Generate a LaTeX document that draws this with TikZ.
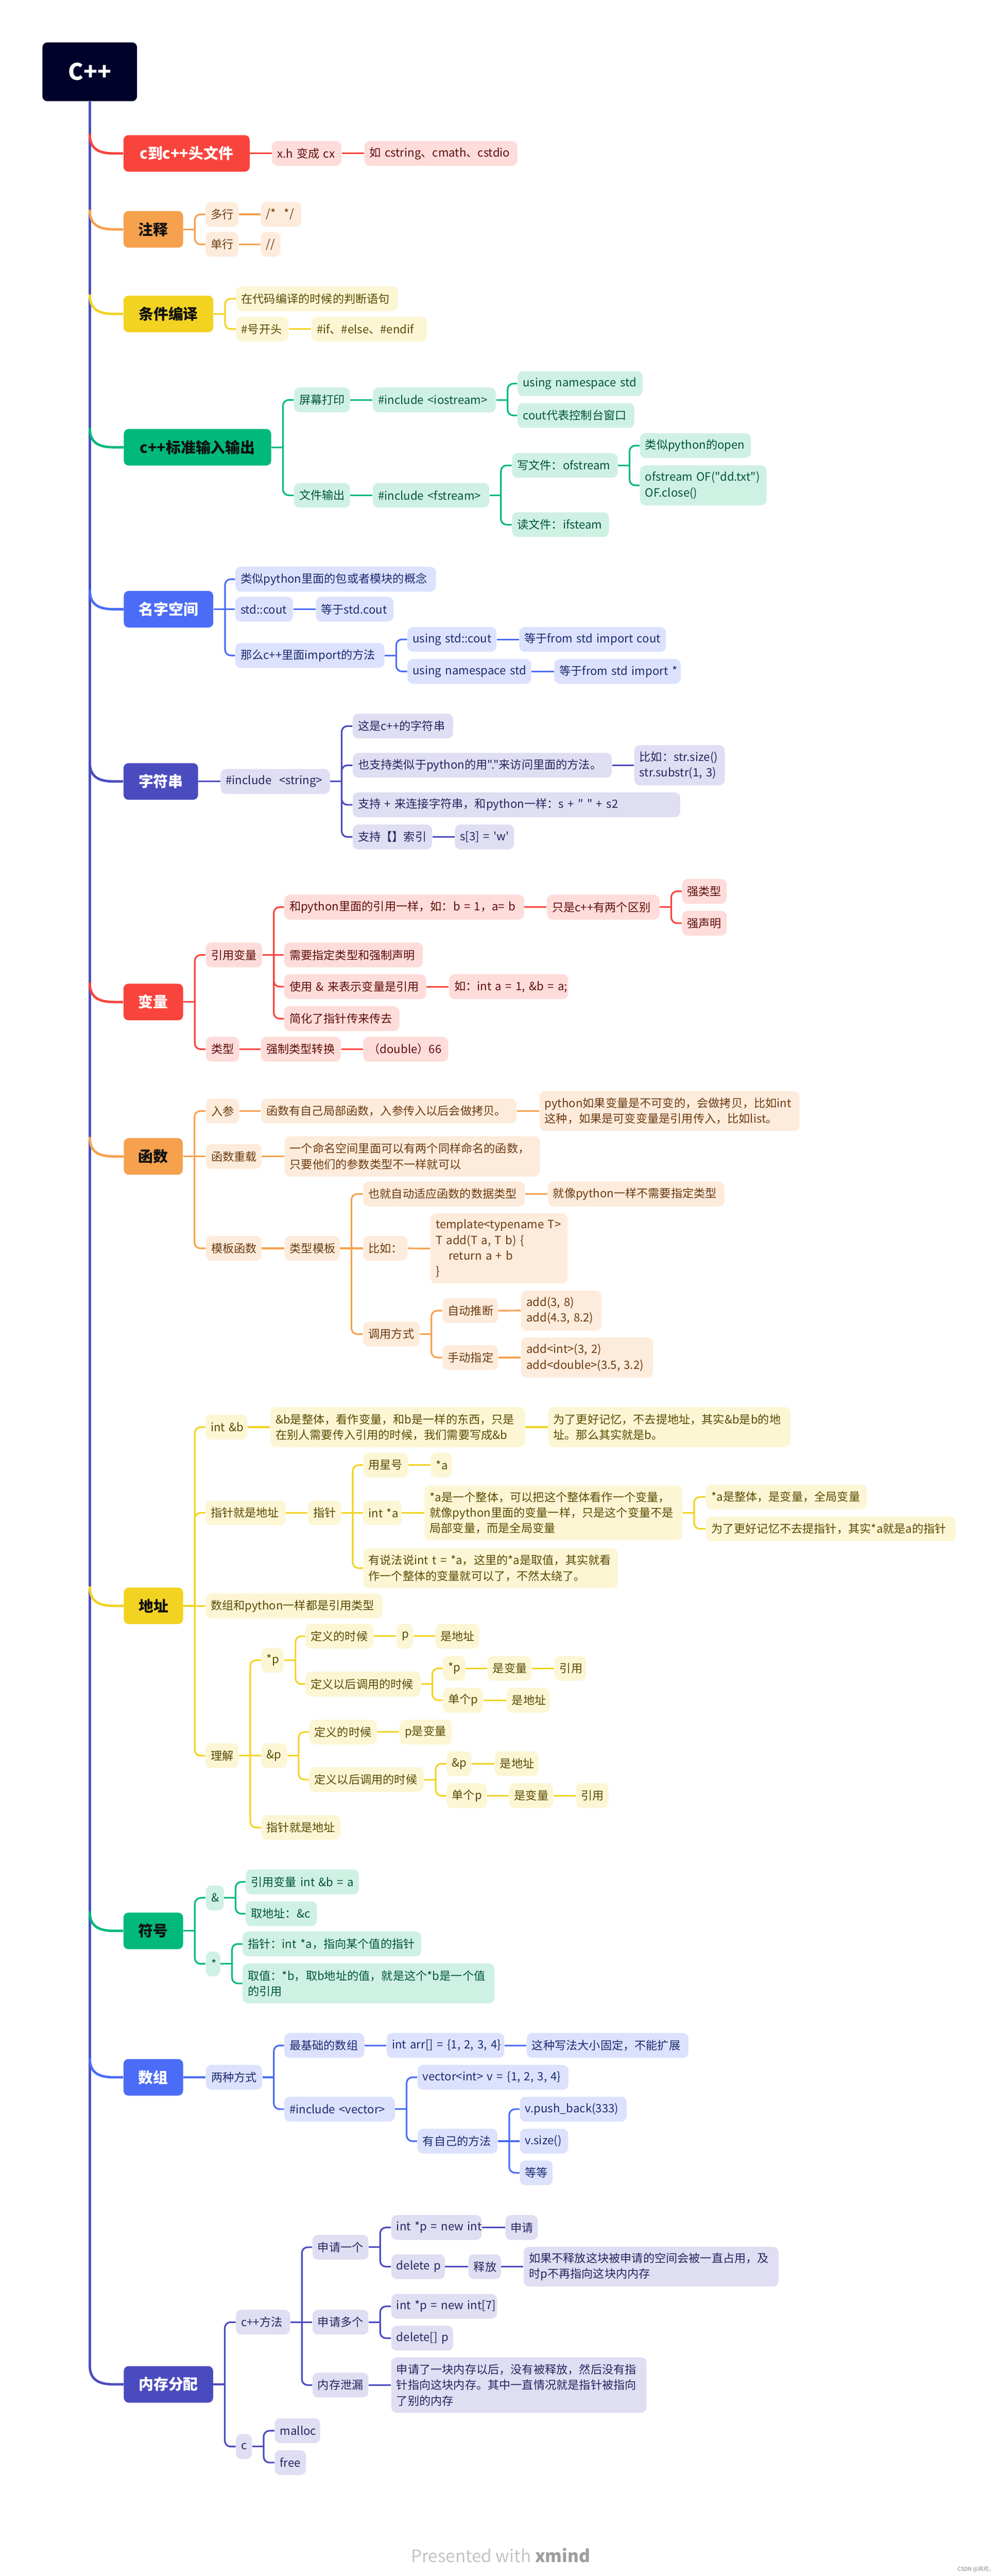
\documentclass[tikz,border=0pt]{standalone}
\usepackage{fontspec}
\setmainfont{Noto Sans CJK SC}[Ligatures=TeXOff]
\definecolor{rMain}{HTML}{F9443D}\definecolor{rLt}{HTML}{FEDCDA}\definecolor{rTx}{HTML}{5E0D07}
\definecolor{oMain}{HTML}{F6A14D}\definecolor{oLt}{HTML}{FDEBDC}\definecolor{oTx}{HTML}{6B3A0E}
\definecolor{yMain}{HTML}{F2D322}\definecolor{yLt}{HTML}{FCF6D5}\definecolor{yTx}{HTML}{5A4A00}
\definecolor{gMain}{HTML}{00B97B}\definecolor{gLt}{HTML}{CFF1E4}\definecolor{gTx}{HTML}{00533B}
\definecolor{bMain}{HTML}{4A6CF7}\definecolor{bLt}{HTML}{DCE2FD}\definecolor{bTx}{HTML}{1B2A70}
\definecolor{iMain}{HTML}{4B4BC0}\definecolor{iLt}{HTML}{DFDEF2}\definecolor{iTx}{HTML}{25245F}
\definecolor{spineC}{HTML}{4C52C2}
\definecolor{rootC}{HTML}{000229}
\definecolor{darkTx}{HTML}{111111}
\definecolor{pwA}{HTML}{C4C4C4}\definecolor{pwB}{HTML}{9E9E9E}
\tikzset{
  box/.style={rounded corners=3.4pt, inner xsep=3.2pt, inner ysep=0pt, minimum height=15.2pt,
    align=left, anchor=west, font=\fontsize{7}{9.6}\selectfont},
  mainbox/.style={rounded corners=3pt, inner xsep=0pt, inner ysep=0pt, minimum height=22.4pt,
    anchor=west, align=center, font=\fontsize{9.1}{11}\selectfont\bfseries},
  cR/.style={box, fill=rLt, text=rTx}, cO/.style={box, fill=oLt, text=oTx},
  cY/.style={box, fill=yLt, text=yTx}, cG/.style={box, fill=gLt, text=gTx},
  cB/.style={box, fill=bLt, text=bTx}, cI/.style={box, fill=iLt, text=iTx},
  mR/.style={mainbox, fill=rMain, text=white}, mO/.style={mainbox, fill=oMain, text=darkTx},
  mY/.style={mainbox, fill=yMain, text=darkTx}, mG/.style={mainbox, fill=gMain, text=darkTx},
  mB/.style={mainbox, fill=bMain, text=white}, mI/.style={mainbox, fill=iMain, text=white},
  lR/.style={draw=rMain, line width=1pt}, lO/.style={draw=oMain, line width=1pt},
  lY/.style={draw=yMain, line width=1pt}, lG/.style={draw=gMain, line width=1pt},
  lB/.style={draw=bMain, line width=1pt}, lI/.style={draw=iMain, line width=1pt},
}
% single-line child node: [style]{name}{x1}{x2}{yc}{text}
\newcommand\NodeS[6][]{\pgfmathsetmacro\nodeW{#4-#3}\pgfmathsetmacro\textW{#4-#3-6.4}%
  \node[#1,minimum width=\nodeW pt,text width=\textW pt] (#2) at (#3,#5) {\mbox{#6}};}
% multi-line child node: [style]{name}{x1}{x2}{yc}{h}{text}
\newcommand\NodeT[7][]{\pgfmathsetmacro\nodeW{#4-#3}\pgfmathsetmacro\textW{#4-#3-6.4}%
  \node[#1,minimum width=\nodeW pt,text width=\textW pt,minimum height=#6pt] (#2) at (#3,#5) {#7};}
% main node: [style]{name}{x1}{x2}{yc}{text}
\newcommand\NodeM[6][]{\pgfmathsetmacro\nodeW{#4-#3}%
  \node[#1,minimum width=\nodeW pt] (#2) at (#3,#5) {#6};}
% straight link
\newcommand\LinkS[3]{\draw[#1] (#2.east) -- (#3.west);}
% branched link
\newcommand\LinkB[3]{\draw[#1] (#2.east) -- ++(7pt,0) coordinate (brj);
  \draw[#1, rounded corners=3.5pt] (brj) |- (#3.west);}
% main branch from spine: {style}{node}{yc}
\newcommand\LinkM[3]{\draw[#1, line width=1.5pt] (55,#3-12) .. controls (55,#3-3) and (60,#3) .. (70,#3) -- (#2.west);}
\begin{document}
\begin{tikzpicture}[x=1pt,y=-1pt]
\useasboundingbox (0,0) rectangle (612,1578);
\fill[white] (0,0) rectangle (612,1578);

\node[fill=rootC, rounded corners=3pt, minimum width=58pt, minimum height=36pt, inner sep=0pt,
  text=white, font=\fontsize{14}{16}\selectfont\bfseries] (root) at (55,44) {C++};
\draw[draw=spineC, line width=1.6pt] (root.south) -- (55,1448.6);

% ---------- 1 ----------
\NodeM[mR]{n1}{75.5}{152.8}{94}{c到c++头文件}
\NodeS[cR]{a1}{166.5}{209}{94}{x.h 变成 cx}
\NodeS[cR]{a2}{223.1}{316.9}{94}{如 cstring、cmath、cstdio}
\LinkM{lR}{n1}{94}
\LinkS{lR}{n1}{a1}\LinkS{lR}{a1}{a2}

% ---------- 2 ----------
\NodeM[mO]{n2}{75.5}{112}{140.5}{注释}
\NodeS[cO]{b1}{125.8}{146}{131.3}{多行}
\NodeS[cO]{b2}{125.8}{146}{149.7}{单行}
\NodeS[cO]{b3}{159.7}{184.5}{131.3}{/*\hspace{5pt}*/}
\NodeS[cO]{b4}{159.7}{171.7}{149.7}{//}
\LinkM{lO}{n2}{140.5}
\LinkB{lO}{n2}{b1}\LinkB{lO}{n2}{b2}\LinkS{lO}{b1}{b3}\LinkS{lO}{b2}{b4}

% ---------- 3 ----------
\NodeM[mY]{n3}{75.5}{130.5}{192.3}{条件编译}
\NodeS[cY]{c1}{144.5}{243.8}{183}{在代码编译的时候的判断语句}
\NodeS[cY]{c2}{144.5}{176.6}{201.6}{\#号开头}
\NodeS[cY]{c3}{190.7}{261.5}{201.6}{\#if、\#else、\#endif}
\LinkM{lY}{n3}{192.3}
\LinkB{lY}{n3}{c1}\LinkB{lY}{n3}{c2}\LinkS{lY}{c2}{c3}

% ---------- 4 ----------
\NodeM[mG]{n4}{75.7}{166}{274}{c++标准输入输出}
\NodeS[cG]{d1}{180}{214.3}{245}{屏幕打印}
\NodeS[cG]{d2}{228.3}{303.7}{245}{\#include <iostream>}
\NodeS[cG]{d3}{317}{393.6}{235}{using namespace std}
\NodeS[cG]{d4}{317}{388.6}{254.5}{cout代表控制台窗口}
\NodeS[cG]{d5}{180}{214.3}{303.4}{文件输出}
\NodeS[cG]{d6}{228.3}{299.6}{303.4}{\#include <fstream>}
\NodeS[cG]{d7}{313.6}{378.4}{285.1}{写文件：ofstream}
\NodeS[cG]{d8}{392}{460}{273}{类似python的open}
\NodeT[cG]{d9}{392}{469.6}{297.3}{24.5}{\mbox{ofstream OF("dd.txt")}\\OF.close()}
\NodeS[cG]{d10}{313.6}{373}{321.4}{读文件：ifsteam}
\LinkM{lG}{n4}{274}
\LinkB{lG}{n4}{d1}\LinkB{lG}{n4}{d5}\LinkS{lG}{d1}{d2}
\LinkB{lG}{d2}{d3}\LinkB{lG}{d2}{d4}\LinkS{lG}{d5}{d6}
\LinkB{lG}{d6}{d7}\LinkB{lG}{d6}{d10}\LinkB{lG}{d7}{d8}\LinkB{lG}{d7}{d9}

% ---------- 5 ----------
\NodeM[mB]{n5}{75.7}{130.5}{373.2}{名字空间}
\NodeS[cB]{e1}{144}{267}{354.8}{类似python里面的包或者模块的概念}
\NodeS[cB]{e2}{144}{179.4}{373.2}{std::cout}
\NodeS[cB]{e3}{193.4}{241}{373.2}{等于std.cout}
\NodeS[cB]{e4}{144}{235.4}{401.5}{那么c++里面import的方法}
\NodeS[cB]{e5}{249.5}{304}{391.7}{using std::cout}
\NodeS[cB]{e6}{318}{408}{391.7}{等于from std import cout}
\NodeS[cB]{e7}{249.5}{325.4}{411.3}{using namespace std}
\NodeS[cB]{e8}{339.5}{417}{411.3}{等于from std import *}
\LinkM{lB}{n5}{373.2}
\LinkB{lB}{n5}{e1}\LinkS{lB}{n5}{e2}\LinkB{lB}{n5}{e4}\LinkS{lB}{e2}{e3}
\LinkB{lB}{e4}{e5}\LinkB{lB}{e4}{e7}\LinkS{lB}{e5}{e6}\LinkS{lB}{e7}{e8}

% ---------- 6 ----------
\NodeM[mI]{n6}{75.5}{121.2}{478.7}{字符串}
\NodeS[cI]{f1}{135}{202}{478.7}{\#include\ \ <string>}
\NodeS[cI]{f2}{216}{277.5}{444.8}{这是c++的字符串}
\NodeS[cI]{f3}{216}{374.7}{468.8}{也支持类似于python的用"."来访问里面的方法。}
\NodeT[cI]{f4}{388.5}{444}{468.8}{24.6}{比如：str.size()\\\mbox{str.substr(1, 3)}}
\NodeS[cI]{f5}{216}{416.7}{493}{支持 + 来连接字符串，和python一样：s + " " + s2}
\NodeS[cI]{f6}{216}{264.6}{512.7}{支持【】索引}
\NodeS[cI]{f7}{278.6}{314.8}{512.7}{s[3] = \textquotesingle w\textquotesingle}
\LinkM{lI}{n6}{478.7}
\LinkS{lI}{n6}{f1}\LinkB{lI}{f1}{f2}\LinkB{lI}{f1}{f3}\LinkB{lI}{f1}{f5}\LinkB{lI}{f1}{f6}
\LinkS{lI}{f3}{f4}\LinkS{lI}{f6}{f7}

% ---------- 7 ----------
\NodeM[mR]{n7}{75.5}{112}{613.8}{变量}
\NodeS[cR]{g1}{126}{160.4}{585}{引用变量}
\NodeS[cR]{g2}{174}{321}{555.7}{和python里面的引用一样，如：b = 1，a= b}
\NodeS[cR]{g3}{335}{404}{555.7}{只是c++有两个区别}
\NodeS[cR]{g4}{417.8}{445.2}{546}{强类型}
\NodeS[cR]{g5}{417.8}{445.2}{565.5}{强声明}
\NodeS[cR]{g6}{174}{259}{585}{需要指定类型和强制声明}
\NodeS[cR]{g7}{174}{261}{604.4}{使用 \& 来表示变量是引用}
\NodeS[cR]{g8}{275}{348}{604.4}{如：int a = 1, \&b = a;}
\NodeS[cR]{g9}{174}{244.6}{624}{简化了指针传来传去}
\NodeS[cR]{g10}{126}{146.4}{642.7}{类型}
\NodeS[cR]{g11}{159.8}{208.7}{642.7}{强制类型转换}
\NodeS[cR]{g12}{222.4}{274.5}{642.7}{（double）66}
\LinkM{lR}{n7}{613.8}
\LinkB{lR}{n7}{g1}\LinkB{lR}{n7}{g10}
\LinkB{lR}{g1}{g2}\LinkS{lR}{g1}{g6}\LinkB{lR}{g1}{g7}\LinkB{lR}{g1}{g9}
\LinkS{lR}{g2}{g3}\LinkB{lR}{g3}{g4}\LinkB{lR}{g3}{g5}\LinkS{lR}{g7}{g8}
\LinkS{lR}{g10}{g11}\LinkS{lR}{g11}{g12}

% ---------- 8 ----------
\NodeM[mO]{n8}{75.7}{111.8}{708.4}{函数}
\NodeS[cO]{h1}{126}{146.4}{680.6}{入参}
\NodeS[cO]{h2}{159.8}{316.3}{680.6}{函数有自己局部函数，入参传入以后会做拷贝。}
\NodeT[cO]{h3}{330.4}{489.8}{680.6}{24.4}{python如果变量是不可变的，会做拷贝，比如int\\这种，如果是可变变量是引用传入，比如list。}
\NodeS[cO]{h4}{126}{160}{708.4}{函数重载}
\NodeT[cO]{h5}{174.2}{330.7}{708.4}{24.6}{一个命名空间里面可以有两个同样命名的函数，\\只要他们的参数类型不一样就可以}
\NodeS[cO]{h6}{126}{160}{764.7}{模板函数}
\NodeS[cO]{h7}{174.2}{208}{764.7}{类型模板}
\NodeS[cO]{h8}{222.4}{321.4}{731.4}{也就自动适应函数的数据类型}
\NodeS[cO]{h9}{335.5}{443.8}{731.4}{就像python一样不需要指定类型}
\NodeS[cO]{h10}{222.4}{249.5}{764.7}{比如：}
\NodeT[cO]{h11}{263.6}{347.6}{764.8}{43}{\mbox{template<typename T>}\\\mbox{T add(T a, T b) \{}\\\mbox{\hspace*{8pt}return a + b}\\\}}
\NodeS[cO]{h12}{222.4}{257}{817.2}{调用方式}
\NodeS[cO]{h13}{271}{305}{802.9}{自动推断}
\NodeT[cO]{h14}{319.2}{368.4}{802.8}{24.5}{\mbox{add(3, 8)}\\\mbox{add(4.3, 8.2)}}
\NodeS[cO]{h15}{271}{305}{831.6}{手动指定}
\NodeT[cO]{h16}{319.2}{400}{831.6}{24.5}{\mbox{add<int>(3, 2)}\\\mbox{add<double>(3.5, 3.2)}}
\LinkM{lO}{n8}{708.4}
\LinkB{lO}{n8}{h1}\LinkS{lO}{n8}{h4}\LinkB{lO}{n8}{h6}
\LinkS{lO}{h1}{h2}\LinkS{lO}{h2}{h3}\LinkS{lO}{h4}{h5}\LinkS{lO}{h6}{h7}
\LinkB{lO}{h7}{h8}\LinkS{lO}{h7}{h10}\LinkB{lO}{h7}{h12}
\LinkS{lO}{h8}{h9}\LinkS{lO}{h10}{h11}
\LinkB{lO}{h12}{h13}\LinkB{lO}{h12}{h15}\LinkS{lO}{h13}{h14}\LinkS{lO}{h15}{h16}

% ---------- 9 ----------
\NodeM[mY]{n9}{75.7}{112}{983.7}{地址}
\NodeS[cY]{i1}{125.7}{151.4}{874.2}{int \&b}
\NodeT[cY]{i2}{165.5}{321.6}{874.2}{24.5}{\&b是整体，看作变量，和b是一样的东西，只是\\在别人需要传入引用的时候，我们需要写成\&b}
\NodeT[cY]{i3}{335.7}{484.3}{874.2}{24.5}{为了更好记忆，不去提地址，其实\&b是b的地\\址。那么其实就是b。}
\NodeS[cY]{i4}{125.7}{174.8}{926.7}{指针就是地址}
\NodeS[cY]{i5}{188.5}{208.8}{926.7}{指针}
\NodeS[cY]{i6}{222.4}{249.8}{897.5}{用星号}
\NodeS[cY]{i7}{263.8}{276.7}{897.5}{*a}
\NodeS[cY]{i8}{222.4}{245.9}{926.7}{int *a}
\NodeT[cY]{i9}{260}{418}{926.7}{33.5}{*a是一个整体，可以把这个整体看作一个变量，\\就像python里面的变量一样，只是这个变量不是\\局部变量，而是全局变量}
\NodeS[cY]{i10}{432.5}{531}{917}{*a是整体，是变量，全局变量}
\NodeS[cY]{i11}{432.5}{585.5}{936.5}{为了更好记忆不去提指针，其实*a就是a的指针}
\NodeT[cY]{i12}{222.4}{378.6}{960.6}{24.3}{\mbox{有说法说int t = *a，这里的*a是取值，其实就看}\\作一个整体的变量就可以了，不然太绕了。}
\NodeS[cY]{i13}{125.7}{234.2}{983.8}{数组和python一样都是引用类型}
\NodeS[cY]{i14}{125.7}{146}{1075.5}{理解}
\NodeS[cY]{i15}{160}{173.7}{1017}{*p}
\NodeS[cY]{i16}{187}{228.7}{1002.3}{定义的时候}
\NodeS[cY]{i17}{242.8}{252.9}{1002.3}{p}
\NodeS[cY]{i18}{266.6}{293.5}{1002.3}{是地址}
\NodeS[cY]{i19}{187}{257.6}{1031.6}{定义以后调用的时候}
\NodeS[cY]{i20}{271.3}{285}{1022}{*p}
\NodeS[cY]{i21}{298.6}{325.5}{1022}{是变量}
\NodeS[cY]{i22}{339.6}{359}{1022}{引用}
\NodeS[cY]{i23}{271.3}{295.9}{1041.5}{单个p}
\NodeS[cY]{i24}{310.3}{336.8}{1041.5}{是地址}
\NodeS[cY]{i25}{160}{175.6}{1075.5}{\&p}
\NodeS[cY]{i26}{189.3}{230.7}{1061}{定义的时候}
\NodeS[cY]{i27}{244.7}{276.7}{1061}{p是变量}
\NodeS[cY]{i28}{189.3}{259.6}{1090.1}{定义以后调用的时候}
\NodeS[cY]{i29}{273.6}{288.8}{1080.4}{\&p}
\NodeS[cY]{i30}{303}{329.8}{1080.4}{是地址}
\NodeS[cY]{i31}{273.6}{298.2}{1100}{单个p}
\NodeS[cY]{i32}{311.8}{338.8}{1100}{是变量}
\NodeS[cY]{i33}{352.8}{372.7}{1100}{引用}
\NodeS[cY]{i34}{160}{208.4}{1119.5}{指针就是地址}
\LinkM{lY}{n9}{983.7}
\LinkB{lY}{n9}{i1}\LinkB{lY}{n9}{i4}\LinkS{lY}{n9}{i13}\LinkB{lY}{n9}{i14}
\LinkS{lY}{i1}{i2}\LinkS{lY}{i2}{i3}
\LinkS{lY}{i4}{i5}\LinkB{lY}{i5}{i6}\LinkS{lY}{i5}{i8}\LinkB{lY}{i5}{i12}
\LinkS{lY}{i6}{i7}\LinkS{lY}{i8}{i9}\LinkB{lY}{i9}{i10}\LinkB{lY}{i9}{i11}
\LinkB{lY}{i14}{i15}\LinkS{lY}{i14}{i25}\LinkB{lY}{i14}{i34}
\LinkB{lY}{i15}{i16}\LinkB{lY}{i15}{i19}\LinkS{lY}{i16}{i17}\LinkS{lY}{i17}{i18}
\LinkB{lY}{i19}{i20}\LinkB{lY}{i19}{i23}\LinkS{lY}{i20}{i21}\LinkS{lY}{i21}{i22}\LinkS{lY}{i23}{i24}
\LinkB{lY}{i25}{i26}\LinkB{lY}{i25}{i28}\LinkS{lY}{i26}{i27}
\LinkB{lY}{i28}{i29}\LinkB{lY}{i28}{i31}\LinkS{lY}{i29}{i30}\LinkS{lY}{i31}{i32}\LinkS{lY}{i32}{i33}

% ---------- 10 ----------
\NodeM[mG]{n10}{75.5}{112}{1182.8}{符号}
\NodeS[cG]{j1}{126}{137}{1162.6}{\&}
\NodeS[cG]{j2}{150.4}{219.8}{1152.8}{引用变量 int \&b = a}
\NodeS[cG]{j3}{150.4}{194.1}{1172.3}{取地址：\&c}
\NodeS[cG]{j4}{126}{134.8}{1203}{*}
\NodeS[cG]{j5}{148.5}{258}{1190.8}{指针：int *a，指向某个值的指针}
\NodeT[cG]{j6}{148.5}{302.8}{1215}{24.5}{取值：*b，取b地址的值，就是这个*b是一个值\\的引用}
\LinkM{lG}{n10}{1182.8}
\LinkB{lG}{n10}{j1}\LinkB{lG}{n10}{j4}
\LinkB{lG}{j1}{j2}\LinkB{lG}{j1}{j3}\LinkB{lG}{j4}{j5}\LinkB{lG}{j4}{j6}

% ---------- 11 ----------
\NodeM[mB]{n11}{75.5}{112}{1272.5}{数组}
\NodeS[cB]{k1}{126}{160.4}{1272.5}{两种方式}
\NodeS[cB]{k2}{174}{223.1}{1253}{最基础的数组}
\NodeS[cB]{k3}{236.8}{308.9}{1253}{int arr[] = \{1, 2, 3, 4\}}
\NodeS[cB]{k4}{322.6}{421.7}{1253}{这种写法大小固定，不能扩展}
\NodeS[cB]{k5}{174}{241.8}{1292}{\#include <vector>}
\NodeS[cB]{k6}{255.7}{348.2}{1272.5}{vector<int> v = \{1, 2, 3, 4\}}
\NodeS[cB]{k7}{255.7}{304.7}{1311.6}{有自己的方法}
\NodeS[cB]{k8}{318.4}{383.9}{1292}{v.push\_back(333)}
\NodeS[cB]{k9}{318.4}{348}{1311.6}{v.size()}
\NodeS[cB]{k10}{318.4}{338.5}{1331}{等等}
\LinkM{lB}{n11}{1272.5}
\LinkS{lB}{n11}{k1}\LinkB{lB}{k1}{k2}\LinkB{lB}{k1}{k5}
\LinkS{lB}{k2}{k3}\LinkS{lB}{k3}{k4}
\LinkB{lB}{k5}{k6}\LinkB{lB}{k5}{k7}
\LinkB{lB}{k7}{k8}\LinkS{lB}{k7}{k9}\LinkB{lB}{k7}{k10}

% ---------- 12 ----------
\NodeM[mI]{n12}{75.7}{130.4}{1460.6}{内存分配}
\NodeS[cI]{l1}{144.4}{177.6}{1422.5}{c++方法}
\NodeS[cI]{l2}{191.3}{225.6}{1376.6}{申请一个}
\NodeS[cI]{l3}{239.6}{295}{1364.5}{int *p = new int}
\NodeS[cI]{l4}{309.5}{329.4}{1364.5}{申请}
\NodeS[cI]{l5}{239.6}{272.4}{1388.5}{delete p}
\NodeS[cI]{l6}{286.9}{306.8}{1388.5}{释放}
\NodeT[cI]{l7}{320.8}{477}{1388.5}{24.3}{如果不释放这块被申请的空间会被一直占用，及\\时p不再指向这块内内存}
\NodeS[cI]{l8}{191.3}{225.6}{1422.5}{申请多个}
\NodeS[cI]{l9}{239.6}{304.4}{1412.8}{int *p = new int[7]}
\NodeS[cI]{l10}{239.6}{277.5}{1432.3}{delete[] p}
\NodeS[cI]{l11}{191.3}{225.6}{1461}{内存泄漏}
\NodeT[cI]{l12}{239.6}{396.1}{1461}{34}{申请了一块内存以后，没有被释放，然后没有指\\针指向这块内存。其中一直情况就是指针被指向\\了别的内存}
\NodeS[cI]{l13}{144.4}{154.2}{1498.7}{c}
\NodeS[cI]{l14}{168.2}{196}{1489}{malloc}
\NodeS[cI]{l15}{168.2}{187.3}{1508.5}{free}
\LinkM{lI}{n12}{1460.6}
\LinkB{lI}{n12}{l1}\LinkB{lI}{n12}{l13}
\LinkB{lI}{l1}{l2}\LinkS{lI}{l1}{l8}\LinkB{lI}{l1}{l11}
\LinkB{lI}{l2}{l3}\LinkB{lI}{l2}{l5}\LinkS{lI}{l3}{l4}\LinkS{lI}{l5}{l6}\LinkS{lI}{l6}{l7}
\LinkB{lI}{l8}{l9}\LinkB{lI}{l8}{l10}\LinkS{lI}{l11}{l12}
\LinkB{lI}{l13}{l14}\LinkB{lI}{l13}{l15}

% ---------- footer ----------
\node[font=\fontsize{10.5}{12}\selectfont, inner sep=0pt] (pw) at (306.8,1565.4)
  {\textcolor{pwA}{Presented with} \textcolor{pwB}{\bfseries xmind}};
\node[font=\fontsize{3.3}{4}\selectfont, text=gray, anchor=east, inner sep=0pt] (wm) at (609.5,1574) {CSDN @风可。};
\end{tikzpicture}
\end{document}
